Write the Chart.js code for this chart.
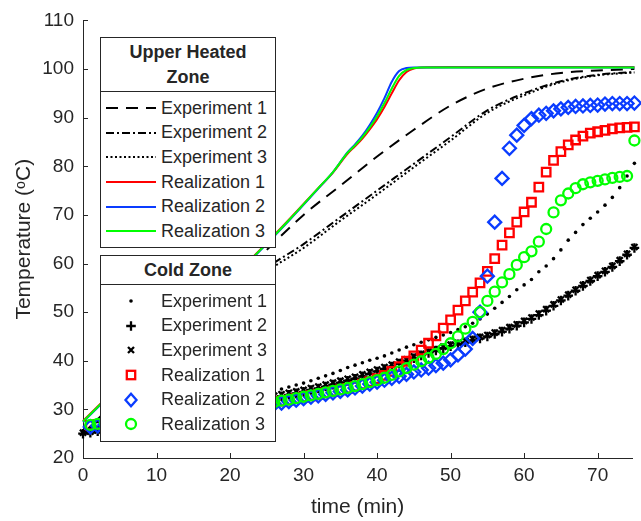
<!DOCTYPE html>
<html>
<head>
<meta charset="utf-8">
<script src="https://cdn.jsdelivr.net/npm/chart.js@4.4.1/dist/chart.umd.min.js"></script>
<style>
html, body { margin: 0; padding: 0; background: #fff; }
#wrap { position: relative; width: 641px; height: 521px; overflow: hidden; }
#chart { position: absolute; left: 0; top: 0; }
.legend { position: absolute; box-sizing: border-box; background: #fff; border: 1px solid #262626;
  font-family: "Liberation Sans", Arial, sans-serif; color: #262626; }
.legend .ttl { box-sizing: border-box; border-bottom: 1px solid #262626; font-weight: bold; font-size: 18px;
  text-align: center; display: flex; align-items: center; justify-content: center; line-height: 25px; }
.legend .row { height: 24.6px; display: flex; align-items: center; font-size: 18px; white-space: nowrap; }
.legend svg { flex: none; margin-left: 4px; margin-right: 4px; }
</style>
</head>
<body>
<div id="wrap">
  <canvas id="chart" width="641" height="521"></canvas>
  <div class="legend" id="leg-upper" style="left:100px;top:37px;width:176px;height:211px">
    <div class="ttl" style="height:54px">Upper Heated<br>Zone</div>
    <div class="rows" style="padding-top:4px"></div>
  </div>
  <div class="legend" id="leg-cold" style="left:100px;top:255px;width:176px;height:187px">
    <div class="ttl" style="height:29px">Cold Zone</div>
    <div class="rows" style="padding-top:4px"></div>
  </div>
</div>
<script>
// axis ticks
const xTicks = [0, 10, 20, 30, 40, 50, 60, 70];
const yTicks = [20, 30, 40, 50, 60, 70, 80, 90, 100, 110];

// upper heated zone - experiments (lines)
const upperExpTime = [0, 5, 10, 15, 20, 25, 30, 35, 40, 45, 50, 55, 60, 65, 70, 75];
const upperExp1 = [25, 32.5, 40, 47.5, 55, 62.8, 70, 76, 82, 87.5, 92.5, 96, 98, 99.2, 99.7, 100];
const upperExp2 = [25, 31.5, 38, 45, 52, 59, 64, 69.5, 75, 80.5, 86, 91.5, 95, 97.5, 98.8, 99.4];
const upperExp3 = [25, 31, 37.5, 44.5, 51.5, 58.3, 63.2, 68.8, 74.2, 79.8, 85.3, 91, 94.6, 97.3, 98.7, 99.3];

// upper heated zone - realizations (lines)
const upperRealTime = [0, 2, 5, 10, 15, 20, 24, 28, 32, 34, 36, 37, 38, 39, 40, 41, 42, 43, 44, 45, 46, 50, 60, 75];
const upperReal1 = [27.6, 30.6, 35.1, 42.4, 49.6, 56.7, 62.7, 69, 75.5, 78.7, 82.6, 84.1, 85.7, 87.6, 89.7, 92.2, 95, 97.7, 99.4, 100.1, 100.3, 100.4, 100.4, 100.4];
const upperReal2 = [27.4, 30.4, 34.9, 42.2, 49.4, 56.5, 62.5, 68.8, 75.4, 78.8, 82.9, 84.5, 86.3, 88.5, 91, 94, 97.4, 99.6, 100.2, 100.3, 100.3, 100.3, 100.3, 100.3];
const upperReal3 = [27.5, 30.5, 35, 42.3, 49.5, 56.6, 62.6, 68.9, 75.5, 78.8, 82.8, 84.3, 86, 88, 90.3, 93, 96, 98.6, 99.8, 100.2, 100.3, 100.3, 100.3, 100.3];

// cold zone - experiments (markers), one reading per minute
const coldExpTime = [0, 1, 2, 3, 4, 5, 6, 7, 8, 9, 10, 11, 12, 13, 14, 15, 16, 17, 18, 19,
  20, 21, 22, 23, 24, 25, 26, 27, 28, 29, 30, 31, 32, 33, 34, 35, 36, 37, 38, 39,
  40, 41, 42, 43, 44, 45, 46, 47, 48, 49, 50, 51, 52, 53, 54, 55, 56, 57, 58, 59,
  60, 61, 62, 63, 64, 65, 66, 67, 68, 69, 70, 71, 72, 73, 74, 75];
const coldExp1 = [25.3, 25.8, 26.3, 26.7, 27.1, 27.5, 27.8, 28.1, 28.5, 28.8,
  29.1, 29.4, 29.7, 30, 30.3, 30.6, 30.9, 31.2, 31.5, 31.7,
  32, 32.3, 32.6, 32.9, 33.2, 33.5, 33.8, 34.2, 34.6, 35,
  35.4, 35.9, 36.4, 36.9, 37.4, 38, 38.6, 39.1, 39.6, 40.1,
  40.5, 41, 41.6, 42.2, 42.8, 43.3, 43.8, 44.3, 44.8, 45.3,
  45.8, 46.4, 47, 47.7, 48.6, 49.6, 50.8, 52, 53.2, 54.6,
  55.6, 56.7, 58.3, 59.5, 61, 62.8, 64.8, 66.4, 68, 69.3,
  70.6, 72, 73.6, 75.6, 78, 80.6];
const coldExp2 = [25, 25.2, 25.5, 25.8, 26.1, 26.4, 26.7, 27, 27.3, 27.6,
  27.9, 28.2, 28.5, 28.8, 29.1, 29.4, 29.7, 30, 30.3, 30.6,
  30.9, 31.1, 31.4, 31.7, 32, 32.2, 32.5, 32.7, 33, 33.3,
  33.6, 34, 34.3, 34.7, 35.1, 35.5, 35.9, 36.3, 36.8, 37.3,
  37.8, 38.3, 38.8, 39.4, 40, 40.5, 41.1, 41.6, 42.1, 42.6,
  43, 43.4, 43.8, 44.2, 44.6, 45, 45.5, 46, 46.6, 47.2,
  47.9, 48.6, 49.4, 50.3, 51.3, 52.4, 53.4, 54.4, 55.4, 56.4,
  57.4, 58.3, 59.3, 60.5, 61.8, 63.2];
const coldExp3 = [25.2, 25.4, 25.7, 26, 26.3, 26.6, 26.9, 27.2, 27.5, 27.8,
  28.1, 28.4, 28.7, 29, 29.3, 29.6, 29.9, 30.2, 30.5, 30.8,
  31.1, 31.4, 31.7, 32, 32.3, 32.5, 32.8, 33.1, 33.4, 33.7,
  34, 34.4, 34.7, 35.1, 35.5, 35.9, 36.3, 36.7, 37.2, 37.7,
  38.2, 38.7, 39.2, 39.8, 40.3, 40.9, 41.4, 41.9, 42.4, 42.9,
  43.3, 43.7, 44.1, 44.5, 44.9, 45.3, 45.8, 46.3, 46.9, 47.5,
  48.2, 48.9, 49.7, 50.6, 51.6, 52.6, 53.6, 54.6, 55.6, 56.6,
  57.6, 58.5, 59.5, 60.7, 62, 63.4];

// cold zone - realizations (markers)
const coldRealTime = [1, 2, 3, 4, 5, 6, 7, 8, 9, 10, 11, 12, 13, 14, 15, 16, 17, 18, 19, 20,
  21, 22, 23, 24, 25, 26, 27, 28, 29, 30, 31, 32, 33, 34, 35, 36, 37, 38, 39, 40,
  41, 42, 43, 44, 45, 46, 47, 48, 49, 50, 51, 52, 53, 54, 55, 56, 57, 58, 59, 60,
  61, 62, 63, 64, 65, 66, 67, 68, 69, 70, 71, 72, 73, 74, 75];
const coldReal1 = [26.7, 26.9, 27.1, 27.3, 27.5, 27.7, 27.9, 28.1, 28.3, 28.5,
  28.7, 28.9, 29.1, 29.3, 29.5, 29.6, 29.8, 30, 30.2, 30.4,
  30.5, 30.7, 30.8, 31, 31.2, 31.4, 31.7, 31.9, 32.2, 32.5,
  32.8, 33.1, 33.4, 33.7, 34, 34.3, 34.7, 35.2, 35.7, 36.3,
  37, 37.8, 38.8, 39.9, 41, 42.2, 43.6, 45.1, 46.7, 48.4,
  50.4, 52.3, 54.1, 56, 58.4, 61, 63.8, 66.3, 68.5, 70.6,
  72.6, 75.7, 78.8, 81.2, 83, 84.4, 85.4, 86.2, 86.8, 87.1,
  87.4, 87.7, 87.9, 88, 88.1];
const coldReal2 = [26.4, 26.6, 26.8, 27, 27.2, 27.4, 27.6, 27.8, 28, 28.2,
  28.4, 28.6, 28.8, 29, 29.2, 29.3, 29.5, 29.7, 29.9, 30.1,
  30.2, 30.4, 30.5, 30.7, 30.9, 31.1, 31.3, 31.6, 31.9, 32.2,
  32.5, 32.8, 33.1, 33.4, 33.7, 34, 34.4, 34.8, 35.2, 35.6,
  36, 36.4, 36.8, 37.2, 37.7, 38.1, 38.5, 39, 39.5, 40.2,
  41.2, 42.4, 44.6, 50, 57.4, 68.5, 77.5, 83.7, 86.4, 88.4,
  89.8, 90.5, 90.9, 91.4, 91.8, 92.1, 92.3, 92.4, 92.5, 92.6,
  92.8, 92.9, 92.9, 92.9, 93];
const coldReal3 = [26.8, 27, 27.2, 27.4, 27.6, 27.8, 28, 28.2, 28.4, 28.6,
  28.8, 29, 29.2, 29.4, 29.6, 29.7, 29.9, 30.1, 30.3, 30.5,
  30.6, 30.8, 30.9, 31.1, 31.3, 31.5, 31.8, 32, 32.3, 32.6,
  32.9, 33.2, 33.5, 33.8, 34.1, 34.4, 34.8, 35.2, 35.6, 36,
  36.5, 37.1, 37.8, 38.5, 39.2, 39.9, 40.6, 41.4, 42.4, 43.6,
  45, 46.6, 48, 50, 52.3, 54.2, 56.1, 57.8, 59.7, 61.3,
  62.5, 64.5, 67.1, 70.5, 73, 74.4, 75.5, 76.3, 76.7, 77,
  77.3, 77.6, 77.8, 78, 85.3];

const ink = '#262626';
const red = '#ff0000';
const blue = '#0a3cff';
const green = '#00ff00';
const fontFamily = '"Liberation Sans", Arial, sans-serif';

const pts = (xs, ys) => xs.map((x, i) => ({ x, y: ys[i] }));

const upperSeries = [
  { label: 'Experiment 1', x: upperExpTime, y: upperExp1, color: '#000', dash: [12, 8] },
  { label: 'Experiment 2', x: upperExpTime, y: upperExp2, color: '#000', dash: [8, 3, 2, 3] },
  { label: 'Experiment 3', x: upperExpTime, y: upperExp3, color: '#000', dash: [2, 2.5] },
  { label: 'Realization 1', x: upperRealTime, y: upperReal1, color: red, dash: [] },
  { label: 'Realization 2', x: upperRealTime, y: upperReal2, color: blue, dash: [] },
  { label: 'Realization 3', x: upperRealTime, y: upperReal3, color: green, dash: [] }
];
const coldSeries = [
  { label: 'Experiment 1', x: coldExpTime, y: coldExp1, color: '#000', style: 'circle', r: 1.8, fill: true },
  { label: 'Experiment 2', x: coldExpTime, y: coldExp2, color: '#000', style: 'cross', r: 4.8 },
  { label: 'Experiment 3', x: coldExpTime, y: coldExp3, color: '#000', style: 'crossRot', r: 4.3 },
  { label: 'Realization 1', x: coldRealTime, y: coldReal1, color: red, style: 'rect', r: 6 },
  { label: 'Realization 2', x: coldRealTime, y: coldReal2, color: blue, style: 'rectRot', r: 6.5 },
  { label: 'Realization 3', x: coldRealTime, y: coldReal3, color: green, style: 'circle', r: 5 }
];

const datasets = [];
upperSeries.forEach(s => datasets.push({
  label: s.label,
  data: pts(s.x, s.y),
  showLine: true,
  borderColor: s.color,
  borderWidth: 2,
  borderDash: s.dash,
  pointRadius: 0,
  cubicInterpolationMode: 'monotone',
  clip: false
}));
coldSeries.forEach(s => datasets.push({
  label: s.label,
  data: pts(s.x, s.y),
  showLine: false,
  pointStyle: s.style,
  pointRadius: s.r,
  pointBorderWidth: s.fill ? 0 : 2.3,
  pointBorderColor: s.color,
  pointBackgroundColor: s.fill ? s.color : 'rgba(0,0,0,0)',
  clip: false
}));
// later series on top
datasets.forEach((d, i) => { d.order = datasets.length - i; });

const innerTicks = {
  id: 'innerTicks',
  afterDraw(chart) {
    const { ctx, chartArea: a, scales: { x, y } } = chart;
    ctx.save();
    ctx.strokeStyle = ink;
    ctx.lineWidth = 1;
    ctx.beginPath();
    xTicks.forEach(v => {
      const p = Math.round(x.getPixelForValue(v)) + 0.5;
      ctx.moveTo(p, a.bottom); ctx.lineTo(p, a.bottom - 5);
    });
    yTicks.forEach(v => {
      const p = Math.round(y.getPixelForValue(v)) + 0.5;
      ctx.moveTo(a.left, p); ctx.lineTo(a.left + 5, p);
    });
    ctx.stroke();
    ctx.restore();
  }
};

Chart.defaults.font.family = fontFamily;

new Chart(document.getElementById('chart'), {
  type: 'scatter',
  data: { datasets },
  options: {
    responsive: false,
    animation: false,
    events: [],
    layout: { padding: { top: 20, right: 0, bottom: 0, left: 0 } },
    plugins: { legend: { display: false }, tooltip: { enabled: false } },
    scales: {
      x: {
        type: 'linear', min: 0, max: 74.7,
        afterBuildTicks: s => { s.ticks = xTicks.map(v => ({ value: v })); },
        afterFit: s => { s.height = 63; },
        ticks: { color: ink, font: { size: 19 }, padding: 6, maxRotation: 0 },
        grid: { drawOnChartArea: false, drawTicks: false },
        border: { color: ink, width: 1 },
        title: { display: true, text: 'time (min)', color: ink, font: { size: 21 }, padding: { top: 0, bottom: 1 } }
      },
      y: {
        type: 'linear', min: 20, max: 110,
        afterBuildTicks: s => { s.ticks = yTicks.map(v => ({ value: v })); },
        afterFit: s => { s.width = 83; },
        ticks: { color: ink, font: { size: 19 }, padding: 9 },
        grid: { drawOnChartArea: false, drawTicks: false },
        border: { color: ink, width: 1 },
        title: { display: true, text: 'Temperature (ᵒC)', color: ink, font: { size: 21 }, padding: { top: 12, bottom: 0 } }
      }
    }
  },
  plugins: [innerTicks]
});

// legends
function lineSample(s) {
  return `<svg width="52" height="20"><line x1="1" y1="10" x2="51" y2="10" stroke="${s.color}" stroke-width="2" stroke-dasharray="${s.dash.join(' ')}"/></svg>`;
}
function markerSample(s) {
  const c = s.color;
  let m = '';
  if (s.style === 'circle' && s.fill) m = `<circle cx="26" cy="10" r="1.8" fill="${c}"/>`;
  else if (s.style === 'circle') m = `<circle cx="26" cy="10" r="5" fill="none" stroke="${c}" stroke-width="2.3"/>`;
  else if (s.style === 'cross') m = `<path d="M21.2 10H30.8M26 5.2V14.8" stroke="${c}" stroke-width="2.3"/>`;
  else if (s.style === 'crossRot') m = `<path d="M23 7L29 13M29 7L23 13" stroke="${c}" stroke-width="2.3"/>`;
  else if (s.style === 'rect') m = `<rect x="21.8" y="5.8" width="8.4" height="8.4" fill="none" stroke="${c}" stroke-width="2.3"/>`;
  else if (s.style === 'rectRot') m = `<path d="M26 3.8L31.5 10L26 16.2L20.5 10Z" fill="none" stroke="${c}" stroke-width="2.3"/>`;
  return `<svg width="52" height="20">${m}</svg>`;
}
document.querySelector('#leg-upper .rows').innerHTML =
  upperSeries.map(s => `<div class="row">${lineSample(s)}<span>${s.label}</span></div>`).join('');
document.querySelector('#leg-cold .rows').innerHTML =
  coldSeries.map(s => `<div class="row">${markerSample(s)}<span>${s.label}</span></div>`).join('');
</script>
</body>
</html>
